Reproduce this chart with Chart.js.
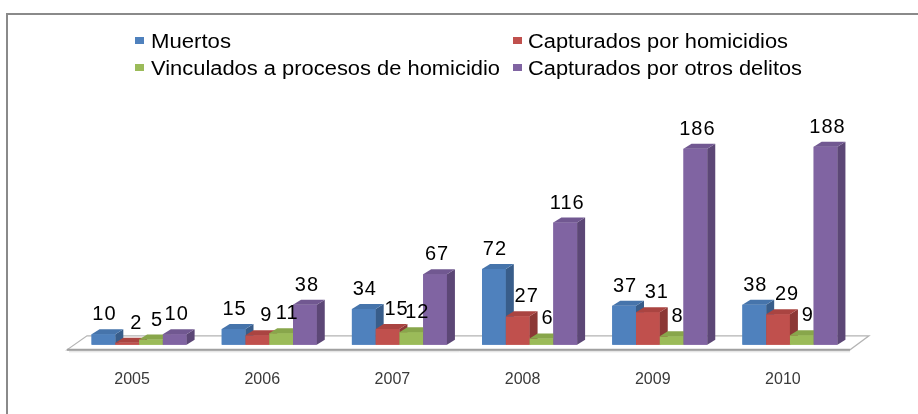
<!DOCTYPE html>
<html>
<head>
<meta charset="utf-8">
<script src="https://cdn.jsdelivr.net/npm/chart.js@4.4.1/dist/chart.umd.min.js"></script>
<style>
  html, body { margin: 0; padding: 0; background: #ffffff; }
  #chart { display: block; }
</style>
</head>
<body>
<canvas id="chart" width="918" height="414"></canvas>
<script>
// Years on the category axis
const years = ["2005", "2006", "2007", "2008", "2009", "2010"];

// One array per series
const muertos = [10, 15, 34, 72, 37, 38];
const capturadosHomicidios = [2, 9, 15, 27, 31, 29];
const vinculados = [5, 11, 12, 6, 8, 9];
const capturadosOtros = [10, 38, 67, 116, 186, 188];

const seriesNames = [
    "Muertos",
    "Capturados por homicidios",
    "Vinculados a procesos de homicidio",
    "Capturados por otros delitos",
];

// front / side / top colours of each series (Office 2007 look)
const faceColors = [
    { front: "#4f81bd", side: "#385d8a", top: "#4674ab" },
    { front: "#c0504d", side: "#8c3836", top: "#aa4441" },
    { front: "#9bbb59", side: "#71893f", top: "#88a64b" },
    { front: "#8064a2", side: "#5c4776", top: "#715891" },
];

// Excel nudges the value labels of each series sideways a little
const labelShift = [0, 8, 5, 1];

const DEPTH_X = 8;
const DEPTH_Y = -5;

// Frame round the whole chart
const framePlugin = {
    id: "frame",
    beforeDraw(chart) {
        const ctx = chart.ctx;
        ctx.save();
        ctx.strokeStyle = "#8a8a8a";
        ctx.lineWidth = 2;
        ctx.strokeRect(7, 14, chart.width + 10, chart.height + 10);
        ctx.restore();
    },
};

// Draw text stretched horizontally so it spans the given width
function stretchedText(ctx, text, x, y, width) {
    const natural = ctx.measureText(text).width;
    ctx.save();
    ctx.translate(x, y);
    ctx.scale(width / natural, 1);
    ctx.fillText(text, 0, 0);
    ctx.restore();
}

// Two column legend drawn by hand
const legendPlugin = {
    id: "legend2col",
    afterDraw(chart) {
        const ctx = chart.ctx;
        const items = [
            { box: 135, x: 151, y: 48, width: 80 },
            { box: 513, x: 528, y: 48, width: 260 },
            { box: 135, x: 151, y: 75, width: 349 },
            { box: 513, x: 528, y: 75, width: 274 },
        ];
        ctx.save();
        ctx.font = "20px 'Liberation Sans', Arial, sans-serif";
        ctx.textBaseline = "alphabetic";
        ctx.textAlign = "left";
        items.forEach((it, i) => {
            ctx.fillStyle = faceColors[i].front;
            ctx.fillRect(it.box, it.y - 11, 9, 7);
            ctx.fillStyle = "#000000";
            stretchedText(ctx, seriesNames[i], it.x, it.y, it.width);
        });
        ctx.restore();
    },
};

// Floor plate under the bars
const floorPlugin = {
    id: "floor",
    beforeDatasetsDraw(chart) {
        const ctx = chart.ctx;
        const a = chart.chartArea;
        const fy = a.bottom + 5;
        const by = a.bottom - 9;
        const fl = a.left - 7;
        const fr = a.right - 5;
        ctx.save();
        ctx.beginPath();
        ctx.moveTo(fl, fy);
        ctx.lineTo(fr, fy);
        ctx.lineTo(fr + 19, by);
        ctx.lineTo(fl + 20, by);
        ctx.closePath();
        ctx.fillStyle = "#ffffff";
        ctx.fill();
        ctx.strokeStyle = "#b4b4b4";
        ctx.lineWidth = 1.2;
        ctx.stroke();
        // front edge of the plate
        ctx.strokeStyle = "#a0a0a0";
        ctx.lineWidth = 2;
        ctx.beginPath();
        ctx.moveTo(fl, fy);
        ctx.lineTo(fr, fy);
        ctx.stroke();
        ctx.strokeStyle = "#dddddd";
        ctx.lineWidth = 1;
        ctx.beginPath();
        ctx.moveTo(fl + 2, fy + 2);
        ctx.lineTo(fr, fy + 2);
        ctx.stroke();
        ctx.restore();
    },
};

// Give each bar a side and a top face, bar by bar from left to right
const bars3dPlugin = {
    id: "bars3d",
    afterDatasetsDraw(chart) {
        const ctx = chart.ctx;
        ctx.save();
        for (let i = 0; i < years.length; i++) {
            chart.data.datasets.forEach((ds, d) => {
                const bar = chart.getDatasetMeta(d).data[i];
                const w = bar.width;
                const l = bar.x - w / 2;
                const r = bar.x + w / 2;
                const t = bar.y;
                const b = bar.base;
                const c = faceColors[d];

                ctx.fillStyle = c.front;
                ctx.fillRect(l, t, w, b - t);

                ctx.fillStyle = c.side;
                ctx.beginPath();
                ctx.moveTo(r, b);
                ctx.lineTo(r, t);
                ctx.lineTo(r + DEPTH_X, t + DEPTH_Y);
                ctx.lineTo(r + DEPTH_X, b + DEPTH_Y);
                ctx.closePath();
                ctx.fill();

                ctx.fillStyle = c.top;
                ctx.beginPath();
                ctx.moveTo(l, t);
                ctx.lineTo(r, t);
                ctx.lineTo(r + DEPTH_X, t + DEPTH_Y);
                ctx.lineTo(l + DEPTH_X, t + DEPTH_Y);
                ctx.closePath();
                ctx.fill();
            });
        }
        ctx.restore();
    },
};

// Value labels over each bar
const valueLabelPlugin = {
    id: "valueLabels",
    afterDraw(chart) {
        const ctx = chart.ctx;
        ctx.save();
        ctx.font = "20px 'Liberation Sans', Arial, sans-serif";
        ctx.letterSpacing = "1px";
        ctx.fillStyle = "#000000";
        ctx.textAlign = "center";
        ctx.textBaseline = "alphabetic";
        chart.data.datasets.forEach((ds, d) => {
            chart.getDatasetMeta(d).data.forEach((bar, i) => {
                ctx.fillText(String(ds.data[i]), bar.x + 1 + labelShift[d], bar.y - 14);
            });
        });
        ctx.restore();
    },
};

const seriesData = [muertos, capturadosHomicidios, vinculados, capturadosOtros];

new Chart(document.getElementById("chart"), {
    type: "bar",
    plugins: [framePlugin, floorPlugin, bars3dPlugin, valueLabelPlugin, legendPlugin],
    data: {
        labels: years,
        datasets: seriesData.map((values, d) => ({
            label: seriesNames[d],
            data: values,
            backgroundColor: faceColors[d].front,
            borderWidth: 0,
            categoryPercentage: 0.73,
            barPercentage: 1,
        })),
    },
    options: {
        responsive: false,
        animation: false,
        devicePixelRatio: 1,
        layout: { padding: { top: 134, bottom: 0, left: 74, right: 63 } },
        plugins: {
            legend: { display: false },
            tooltip: { enabled: false },
        },
        scales: {
            x: {
                grid: { display: false, drawTicks: false },
                border: { display: false },
                ticks: {
                    padding: 25,
                    labelOffset: -7,
                    color: "#3a3a3a",
                    font: { family: "'Liberation Sans', Arial, sans-serif", size: 16 },
                },
            },
            y: {
                display: false,
                min: 0,
                max: 200,
            },
        },
    },
});
</script>
</body>
</html>
